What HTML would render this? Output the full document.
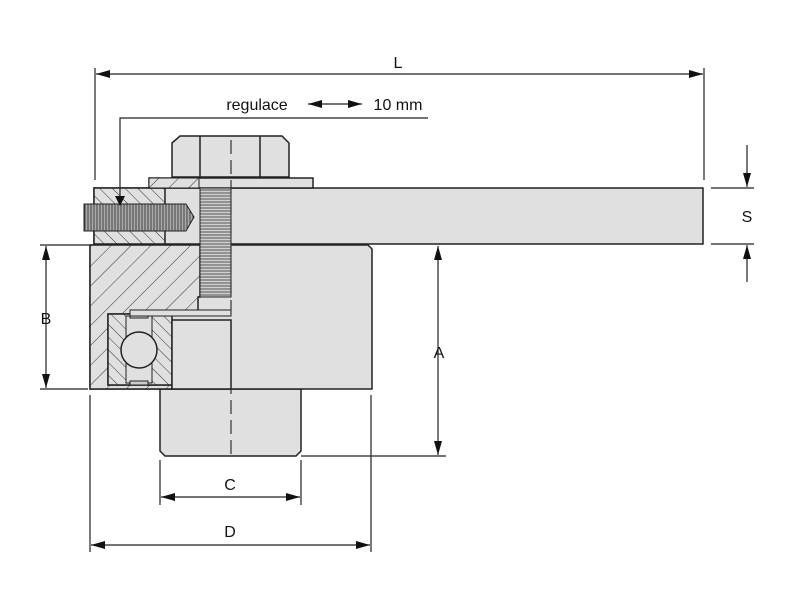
<!DOCTYPE html>
<html><head><style>body{margin:0;background:#fff}svg{display:block}text{font-family:"Liberation Sans",Arial,sans-serif;fill:#111}</style></head>
<body>
<svg width="800" height="600" viewBox="0 0 800 600" xmlns="http://www.w3.org/2000/svg">
<defs>
<pattern id="h" patternUnits="userSpaceOnUse" width="14" height="14" patternTransform="rotate(45)">
<rect width="14" height="14" fill="#e0e0e0"/><line x1="0" y1="0" x2="0" y2="14" stroke="#333" stroke-width="1"/></pattern>
<pattern id="h2" patternUnits="userSpaceOnUse" width="9" height="9" patternTransform="rotate(-45)">
<rect width="9" height="9" fill="#e0e0e0"/><line x1="0" y1="0" x2="0" y2="9" stroke="#333" stroke-width="1"/></pattern>
<pattern id="th" patternUnits="userSpaceOnUse" width="3" height="3">
<rect width="3" height="3" fill="#d0d0d0"/><line x1="0" y1="1" x2="3" y2="1" stroke="#555" stroke-width="1"/></pattern>
<pattern id="tv" patternUnits="userSpaceOnUse" width="3" height="3">
<rect width="3" height="3" fill="#aaa"/><line x1="1" y1="0" x2="1" y2="3" stroke="#444" stroke-width="1"/></pattern>
<marker id="a" markerWidth="14" markerHeight="8" refX="14" refY="4" orient="auto-start-reverse" markerUnits="userSpaceOnUse"><path d="M0,0L14,4L0,8z" fill="#111"/></marker>
</defs>
<g stroke="#222" stroke-width="1.5">
<path d="M160,389 H301 V451 L296,456 H165 L160,451 Z" fill="#e0e0e0"/>
<path d="M92,245 H368 L372,249 V389 H90 V247 Z" fill="#e0e0e0"/>
<path d="M90,245 H200 V297 H198 V314 H108 V385 H172 V389 H90 Z" fill="url(#h)"/>
<rect x="108" y="314" width="64" height="71" fill="url(#h2)"/>
<rect x="126" y="316" width="26" height="67" fill="#e0e0e0" stroke-width="1"/>
<circle cx="139" cy="350" r="18" fill="#e0e0e0"/>
<rect x="130" y="314" width="18" height="4" fill="#ccc" stroke-width="1"/>
<rect x="130" y="381" width="18" height="4" fill="#ccc" stroke-width="1"/>
<rect x="172" y="320" width="59" height="69" fill="#e0e0e0"/>
<rect x="130" y="310" width="101" height="6" fill="#e0e0e0" stroke-width="1"/>
<rect x="94" y="188" width="609" height="56" fill="#e0e0e0"/>
<rect x="94" y="188" width="71" height="56" fill="url(#h2)"/>
<rect x="149" y="178" width="164" height="10" fill="#e0e0e0"/>
<rect x="149" y="178" width="50" height="10" fill="url(#h)" stroke-width="1"/>
<path d="M172,177 V143 L180,136 H282 L289,143 V177 Z" fill="#e0e0e0"/>
<line x1="200" y1="136" x2="200" y2="177"/><line x1="260" y1="136" x2="260" y2="177"/>
<rect x="200" y="188" width="31" height="109" fill="url(#th)" stroke-width="1"/>
<path d="M84,204 H186 L194,217 L186,231 H84 Z" fill="url(#tv)" stroke-width="1"/>
</g>
<line x1="231" y1="140" x2="231" y2="460" stroke="#333" stroke-width="1.2" stroke-dasharray="14,6"/>
<g stroke="#222" stroke-width="1.2" fill="none">
<line x1="95" y1="68" x2="95" y2="180"/><line x1="704" y1="68" x2="704" y2="180"/>
<line x1="96" y1="74" x2="703" y2="74" marker-start="url(#a)" marker-end="url(#a)"/>
<line x1="308" y1="104" x2="362" y2="104" marker-start="url(#a)" marker-end="url(#a)"/>
<path d="M428,118 H120 V205" />
<line x1="711" y1="188" x2="754" y2="188"/><line x1="711" y1="244" x2="754" y2="244"/>
<line x1="747" y1="145" x2="747" y2="187" marker-end="url(#a)"/>
<line x1="747" y1="282" x2="747" y2="245" marker-end="url(#a)"/>
<line x1="438" y1="246" x2="438" y2="455" marker-start="url(#a)" marker-end="url(#a)"/>
<line x1="301" y1="456" x2="446" y2="456"/>
<line x1="40" y1="245" x2="90" y2="245"/><line x1="40" y1="389" x2="88" y2="389"/>
<line x1="46" y1="246" x2="46" y2="388" marker-start="url(#a)" marker-end="url(#a)"/>
<line x1="160" y1="460" x2="160" y2="505"/><line x1="301" y1="460" x2="301" y2="505"/>
<line x1="161" y1="497" x2="300" y2="497" marker-start="url(#a)" marker-end="url(#a)"/>
<line x1="90" y1="395" x2="90" y2="552"/><line x1="371" y1="395" x2="371" y2="552"/>
<line x1="91" y1="545" x2="370" y2="545" marker-start="url(#a)" marker-end="url(#a)"/>
</g>
<path d="M115,196 H125 L120,206 Z" fill="#111"/>
<g font-size="16" text-anchor="middle">
<text x="398" y="68">L</text>
<text x="257" y="110">regulace</text>
<text x="398" y="110">10 mm</text>
<text x="747" y="222">S</text>
<text x="439" y="358">A</text>
<text x="46" y="324">B</text>
<text x="230" y="490">C</text>
<text x="230" y="537">D</text>
</g>
</svg>
</body></html>
